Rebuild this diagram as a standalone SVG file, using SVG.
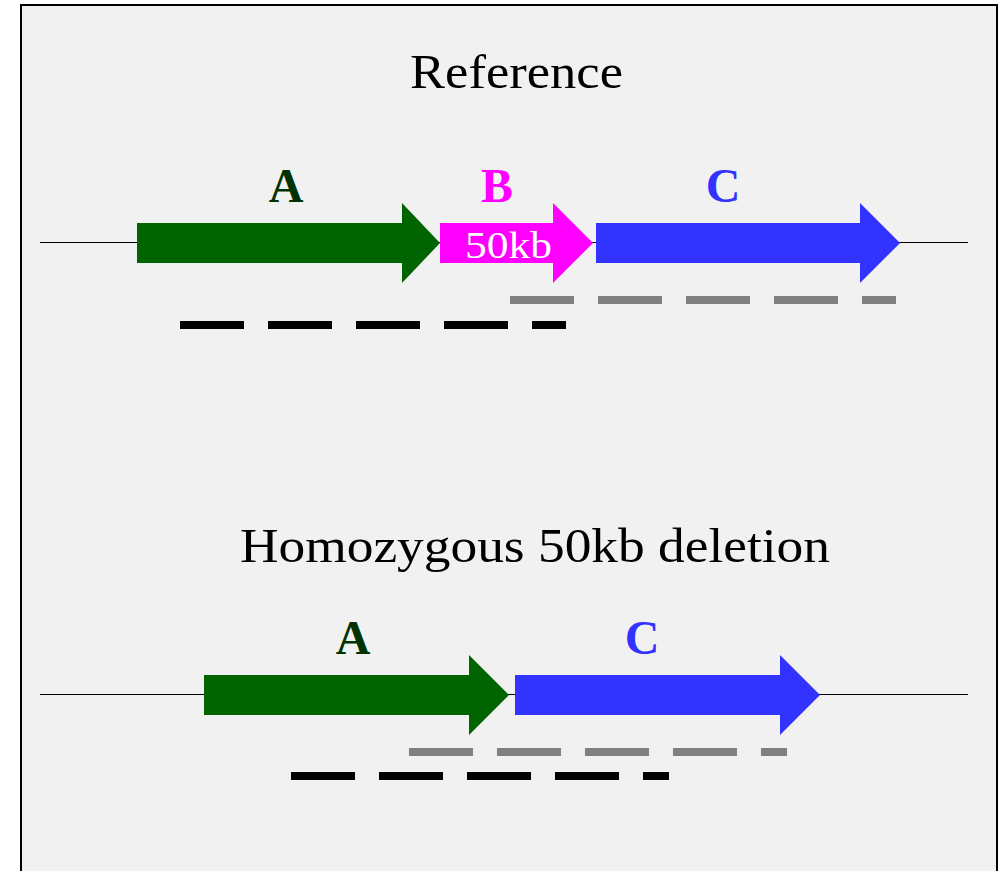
<svg xmlns="http://www.w3.org/2000/svg" width="1008" height="871" viewBox="0 0 1008 871">
<style>
.t{font-family:"Liberation Serif","DejaVu Serif",serif;}
.title{font-size:48px;fill:#000;}
.lab{font-size:48px;font-weight:bold;text-anchor:middle;}
.chrom{stroke:#000;stroke-width:1;fill:none;}
.gray{stroke:#808080;stroke-width:8;stroke-dasharray:64 24;fill:none;}
.black{stroke:#000;stroke-width:8;stroke-dasharray:64 24;fill:none;}
</style>
<rect x="0" y="0" width="1008" height="871" fill="#fff"/>
<rect x="21" y="5" width="976" height="880" fill="#f1f1f1" stroke="#000" stroke-width="2"/>
<text class="t title" x="410" y="88" textLength="213" lengthAdjust="spacingAndGlyphs">Reference</text>
<text class="t title" x="240" y="562" textLength="590" lengthAdjust="spacingAndGlyphs">Homozygous 50kb deletion</text>
<g id="connectors">
<line class="chrom" x1="40" y1="242.5" x2="968" y2="242.5"/>
<line class="chrom" x1="40" y1="694.5" x2="968" y2="694.5"/>
<line class="gray" x1="510" y1="300" x2="896" y2="300"/>
<line class="black" x1="180" y1="325" x2="566" y2="325"/>
<line class="gray" x1="409" y1="752" x2="787" y2="752"/>
<line class="black" x1="291" y1="776" x2="669" y2="776"/>
</g>
<g id="geneA_ref">
<polygon points="137,223 402,223 402,203 440,243 402,283 402,263 137,263" fill="#006400"/>
<text class="t lab" x="286" y="202" fill="#003300">A</text>
</g>
<g id="geneB_ref">
<polygon points="440,223 553,223 553,203 593,243 553,283 553,263 440,263" fill="#ff00ff"/>
<text class="t lab" x="497" y="202" fill="#ff00ff">B</text>
<text class="t" x="465" y="258" font-size="38" fill="#fff" textLength="87" lengthAdjust="spacingAndGlyphs">50kb</text>
</g>
<g id="geneC_ref">
<polygon points="596,223 860,223 860,203 900,243 860,283 860,263 596,263" fill="#3333ff"/>
<text class="t lab" x="723" y="202" fill="#3333ff">C</text>
</g>
<g id="geneA_del">
<polygon points="204,675 469,675 469,655 509,695 469,735 469,715 204,715" fill="#006400"/>
<text class="t lab" x="353" y="654" fill="#003300">A</text>
</g>
<g id="geneC_del">
<polygon points="515,675 780,675 780,655 820,695 780,735 780,715 515,715" fill="#3333ff"/>
<text class="t lab" x="642" y="654" fill="#3333ff">C</text>
</g>
</svg>
